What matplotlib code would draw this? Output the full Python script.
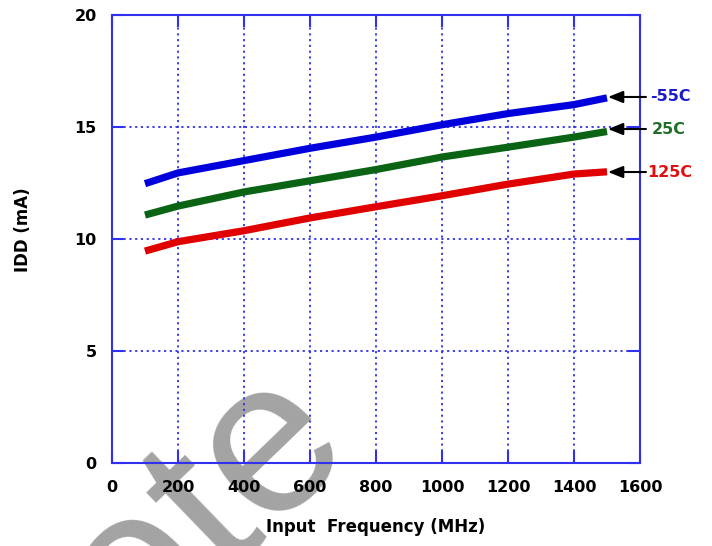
import matplotlib
matplotlib.use("Agg")
import matplotlib.pyplot as plt

# Data
freq = [100, 200, 400, 600, 800, 1000, 1200, 1400, 1500]
idd_m55 = [12.47, 12.95, 13.5, 14.05, 14.55, 15.1, 15.6, 16.0, 16.3]
idd_25 = [11.07, 11.47, 12.1, 12.6, 13.1, 13.66, 14.1, 14.55, 14.8]
idd_125 = [9.46, 9.88, 10.37, 10.94, 11.44, 11.93, 12.45, 12.9, 13.0]

series_labels = ["-55C", "25C", "125C"]
series_colors = ["#0000dd", "#0a6414", "#e00000"]
label_colors = ["#1a1ad0", "#1e6e28", "#e01010"]
arrow_y = [16.34, 14.91, 12.99]
label_x = [1630, 1636, 1621]

xticks = [0, 200, 400, 600, 800, 1000, 1200, 1400, 1600]
yticks = [0, 5, 10, 15, 20]

frame_color = "#3030ee"
plt.rcParams['font.family'] = ['DejaVu Sans']

fig = plt.figure(figsize=(7.12, 5.46), dpi=100)
ax = fig.add_axes([112/712, 1-463/546, 528/712, 448/546])
ax.patch.set_visible(False)

# watermark
fig.text(354/712, 1-443/546, "Obsolete", rotation=44, rotation_mode='anchor',
         ha='right', va='baseline', fontsize=158, color='#a3a3a3',
         family='Liberation Sans', zorder=-5)

for ys, c in zip([idd_m55, idd_25, idd_125], series_colors):
    ax.plot(freq, ys, color=c, lw=5.2, solid_capstyle='butt', zorder=3)

for lab, lc, ay, lx in zip(series_labels, label_colors, arrow_y, label_x):
    ax.annotate("", xy=(1503, ay), xytext=(1618, ay), annotation_clip=False,
                arrowprops=dict(arrowstyle='-|>,head_length=0.9,head_width=0.36',
                                color='black', lw=1.5, mutation_scale=10,
                                shrinkA=0, shrinkB=0))
    ax.text(lx, ay, lab, color=lc, fontsize=11.5, fontweight='bold',
            ha='left', va='center', clip_on=False)

ax.set_xlim(0, 1600)
ax.set_ylim(0, 20)
ax.set_xticks(xticks)
ax.set_yticks(yticks)
ax.grid(True, color=frame_color, linestyle=(0, (1.2, 2.0)), lw=1.3)
for s in ax.spines.values():
    s.set_color(frame_color)
    s.set_linewidth(1.5)
ax.tick_params(direction='in', length=8.5, width=1.5, color=frame_color,
               top=True, right=True, labelsize=11.5)
ax.tick_params(axis='x', pad=12)
ax.tick_params(axis='y', pad=11)
for t in ax.get_xticklabels() + ax.get_yticklabels():
    t.set_fontweight('bold')

ax.set_xlabel("Input  Frequency (MHz)", fontsize=12, fontweight='bold')
ax.xaxis.set_label_coords(0.5, (463-527)/448)
ax.xaxis.label.set_va('center')
ax.set_ylabel("IDD (mA)", fontsize=12, fontweight='bold')
ax.yaxis.set_label_coords((23-112)/528, 0.52)
ax.yaxis.label.set_va('center')

fig.savefig("out.png", dpi=100)
